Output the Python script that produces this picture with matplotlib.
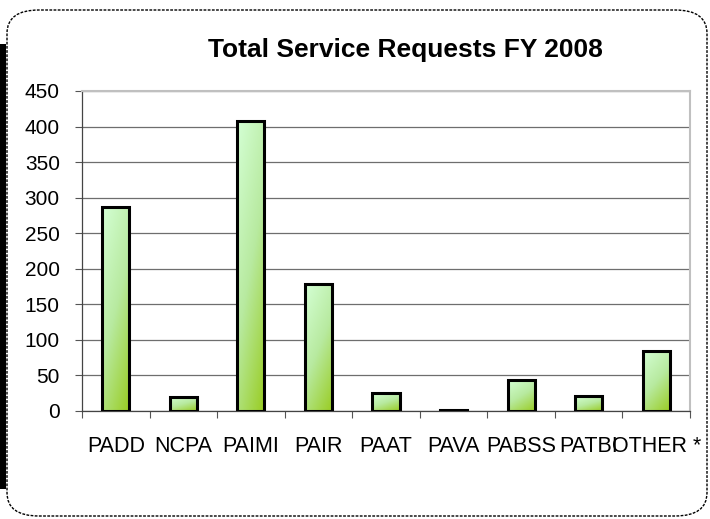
import numpy as np
import matplotlib
matplotlib.use('Agg')
import matplotlib.pyplot as plt
from matplotlib.patches import FancyBboxPatch, Rectangle
from matplotlib.colors import LinearSegmentedColormap

plt.rcParams['font.family'] = ['Liberation Sans', 'DejaVu Sans']

categories = ['PADD', 'NCPA', 'PAIMI', 'PAIR', 'PAAT', 'PAVA', 'PABSS', 'PATBI', 'OTHER *']
requests = [287, 20, 408, 178, 25, 1, 44, 21, 85]
yticks = [0, 50, 100, 150, 200, 250, 300, 350, 400, 450]

fig = plt.figure(figsize=(7.1, 5.19), dpi=100)
fig.patch.set_facecolor('white')

# frame with shadow
fig.add_artist(Rectangle((0, 30/519), 6/710, 445/519, transform=fig.transFigure,
                         facecolor='black', edgecolor='none', zorder=-2))
fig.add_artist(FancyBboxPatch((7/710, 3/519), 700/710, 506/519,
                              boxstyle='round,pad=0,rounding_size=0.045',
                              transform=fig.transFigure, facecolor='white',
                              edgecolor='black', linestyle=(0, (2, 1)), lw=1.0, zorder=-1))

ax = fig.add_axes([82/710, 1-411/519, 608/710, 320/519])
ax.set_facecolor('none')

x = np.arange(len(categories))
bars = ax.bar(x, requests, width=0.4, facecolor='none', edgecolor='black', lw=2.2, zorder=3)

# gradient fill, light top-left to green bottom-right
cmap = LinearSegmentedColormap.from_list('g', ['#d4ffd4', '#b8eaa0', '#99cc22'])
gx, gy = np.meshgrid(np.linspace(0, 1, 50), np.linspace(0, 1, 50))
grad = 0.35*gx + 0.65*gy
for b in bars:
    bx, by = b.get_x(), b.get_y()
    w, h = b.get_width(), b.get_height()
    im = ax.imshow(grad, cmap=cmap, extent=[bx, bx + w, by, by + h], aspect='auto',
                   origin='upper', zorder=2, interpolation='bilinear')
    im.set_clip_path(b)

ax.set_xlim(-0.5, len(categories) - 0.5)
ax.set_ylim(0, 450)
ax.set_yticks(yticks)
ax.set_yticklabels([str(v) for v in yticks], fontsize=15)
ax.grid(axis='y', color='#6e6e6e', lw=0.9, zorder=1)
ax.set_axisbelow(True)

ax.set_xticks(np.arange(len(categories) + 1) - 0.5)
ax.set_xticklabels([])
ax.set_xticks(x, minor=True)
ax.set_xticklabels(categories, minor=True, fontsize=15.5)
ax.tick_params(axis='x', which='minor', length=0, pad=18)
ax.tick_params(axis='x', which='major', length=5, width=0.8, color='#555555', direction='out')
ax.tick_params(axis='y', length=5, width=0.8, color='#555555', pad=11)

for s in ['top', 'right']:
    ax.spines[s].set_color('#c0c0c0')
    ax.spines[s].set_linewidth(1.5)
for s in ['left', 'bottom']:
    ax.spines[s].set_color('#444444')
    ax.spines[s].set_linewidth(0.9)

fig.text(405/710, 1-50/519, 'Total Service Requests FY 2008', ha='center', va='center',
         fontsize=19, fontweight='bold')

fig.savefig('out.png', dpi=100)
